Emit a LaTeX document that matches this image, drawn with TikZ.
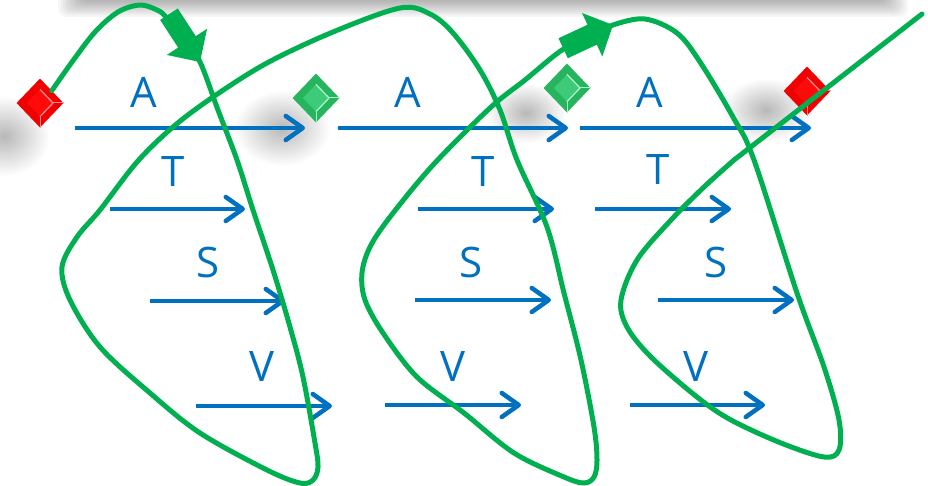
\documentclass[tikz,border=0pt]{standalone}
\usepackage{fontspec}
\setmainfont{Open Sans}
\usetikzlibrary{arrows.meta,shapes.geometric,calc}
\definecolor{flowblue}{HTML}{0070C0}
\definecolor{loopgreen}{HTML}{00B050}
\definecolor{rubybase}{HTML}{F20000}
\definecolor{rubyface}{HTML}{FF0A0A}
\definecolor{rubyshine}{HTML}{FF8C8C}
\definecolor{jadebase}{HTML}{27B45F}
\definecolor{jadeface}{HTML}{3DCB7A}
\definecolor{jadeshine}{HTML}{A8F2C8}

% a bevelled gem: base diamond, lighter face and a bright edge
\newcommand{\drawgem}[5]{%
  \node[gem, fill=#3] (#1) at #2 {};
  \fill[#4] ($(#1.center)!0.55!(#1.north)$) -- ($(#1.center)!0.55!(#1.east)$)
     -- ($(#1.center)!0.55!(#1.south)$) -- ($(#1.center)!0.55!(#1.west)$) -- cycle;
  \draw[#5, line width=1.3pt, line join=round] ($(#1.center)!0.55!(#1.north)$)
     -- ($(#1.center)!0.55!(#1.east)$) -- ($(#1.center)!0.55!(#1.south)$);
  \draw[#5, line width=1pt] ($(#1.center)!0.55!(#1.east)$) -- (#1.east);
  \draw[#5, line width=1pt] ($(#1.center)!0.55!(#1.south)$) -- (#1.south);
}

\begin{document}
\begin{tikzpicture}[x=1pt,y=-1pt,
  gem/.style={diamond, minimum width=47pt, minimum height=49pt, inner sep=0pt},
  flow/.style={draw=flowblue, line width=4.5pt,
    -{Straight Barb[length=17pt,width=24pt,round]}},
  lbl/.style={text=flowblue, font=\fontsize{42}{42}\selectfont, inner sep=0pt},
  loop/.style={draw=loopgreen, line width=5pt, line cap=round, line join=round},
  blockhead/.style={fill=loopgreen},
  haze/.style={inner color=black!28, outer color=white}
]
\useasboundingbox (0,0) rectangle (928,486);
\fill[white] (0,0) rectangle (928,486);

% soft shadow along the top edge
\foreach \i in {0,...,9}
  \fill[black, opacity=0.03, rounded corners=8pt]
    (58+\i*2.5,-20) rectangle (908-\i*2.5,17-\i*1.7);

% soft shadows cast by the gems
\shade[haze] (4,136) ellipse (46 and 40);
\shade[haze] (282,128) ellipse (48 and 38);
\shade[haze] (526,113) ellipse (40 and 30);
\shade[haze] (766,110) ellipse (44 and 32);

% end points of the transitions
\coordinate (a1s) at (75,128);  \coordinate (a1e) at (305,128);
\coordinate (a2s) at (338,128); \coordinate (a2e) at (568,128);
\coordinate (a3s) at (580,128); \coordinate (a3e) at (811,128);
\coordinate (t1s) at (110,209); \coordinate (t1e) at (245,209);
\coordinate (t2s) at (418,209); \coordinate (t2e) at (554,209);
\coordinate (t3s) at (595,209); \coordinate (t3e) at (731,209);
\coordinate (s1s) at (150,301); \coordinate (s1e) at (285,301);
\coordinate (s2s) at (415,300); \coordinate (s2e) at (551,300);
\coordinate (s3s) at (658,300); \coordinate (s3e) at (794,300);
\coordinate (v1s) at (196,406); \coordinate (v1e) at (332,406);
\coordinate (v2s) at (385,405); \coordinate (v2e) at (521,405);
\coordinate (v3s) at (630,405); \coordinate (v3e) at (765,405);

\foreach \r in {a,t,s,v}
  \foreach \k in {1,2,3}
    \draw[flow] (\r\k s) -- (\r\k e);

% labels
\node[lbl] (la1) at (144,92) {A};
\node[lbl] (la2) at (408,92) {A};
\node[lbl] (la3) at (650,92) {A};
\node[lbl] (lt1) at (173,172) {T};
\node[lbl] (lt2) at (483,172) {T};
\node[lbl] (lt3) at (658,170) {T};
\node[lbl] (ls1) at (208,262) {S};
\node[lbl] (ls2) at (471,262) {S};
\node[lbl] (ls3) at (716,262) {S};
\node[lbl] (lv1) at (262,367) {V};
\node[lbl] (lv2) at (453,367) {V};
\node[lbl] (lv3) at (696,367) {V};

% gems
\drawgem{r1}{(40,103)}{rubybase}{rubyface}{rubyshine}
\drawgem{g1}{(316,98)}{jadebase}{jadeface}{jadeshine}
\drawgem{g2}{(567,88)}{jadebase}{jadeface}{jadeshine}
\drawgem{r2}{(807,91)}{rubybase}{rubyface}{rubyshine}

% the winding green trace
\draw[loop] plot[smooth, tension=0.55] coordinates {
  (r1.north east) (72,62) (95,32) (118,12) (140,5) (157,10) (166,17) (184,40) (200,62)
  (218,110) (237,160) (253,210) (273,270) (290,327) (303,377) (315,443) (318,467)
  (313,480) (300,483) (267,470) (200,433) (150,393) (100,347) (70,300) (62,267)
  (77,237) (100,210) (137,162) (173,127) (213,97) (267,63) (333,32) (400,8)
  (430,14) (453,33) (480,70) (500,110) (517,160) (547,227) (564,293) (581,360)
  (594,427) (597,460) (594,477) (584,483) (564,477) (514,453) (464,413) (417,377)
  (383,333) (365,300) (362,273) (370,247) (390,217) (433,165) (490,108) (525,80)
  (562,50) (590,37) (613,25)
  (645,19) (677,33) (700,62) (733,117) (754,160) (797,293) (824,367) (839,420)
  (839,450) (824,457) (781,443) (731,420) (697,397) (651,357) (627,327) (621,300)
  (637,260) (671,220) (704,187) (734,160)} -- (922,14);

% block arrow heads on the trace
\fill[blockhead, shift={(200,62)}, rotate=-57]
  (-57,-10.5) -- (-24,-10.5) -- (-24,-24) -- (0,0) -- (-24,24) -- (-24,10.5) -- (-57,10.5) -- cycle;
\fill[blockhead, shift={(613,25)}, rotate=25]
  (-55,-11) -- (-23,-11) -- (-23,-24) -- (0,0) -- (-23,24) -- (-23,11) -- (-55,11) -- cycle;
\end{tikzpicture}
\end{document}
